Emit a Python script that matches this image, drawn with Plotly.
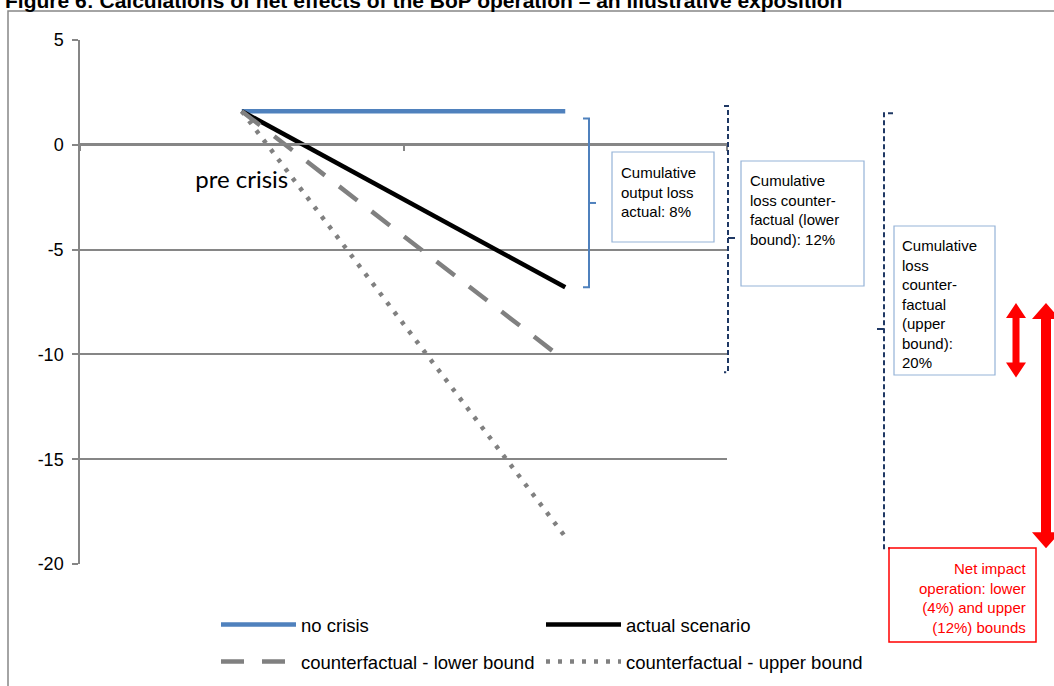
import plotly.graph_objects as go

# data
periods = ["pre crisis", "post crisis"]
no_crisis = [1.6, 1.6]
actual_scenario = [1.6, -6.8]
cf_lower = [1.6, -10.3]
cf_upper = [1.6, -18.7]

y_ticks = [5, 0, -5, -10, -15, -20]
y_tick_labels = ["5", "0", "-5", "-10", "-15", "-20"]

# bracket extents (in y units) and labels
actual_span = [1.25, -6.8]
lower_span = [1.85, -10.85]
upper_span = [1.5, -19.25]
net_lower_span = [-7.55, -11.1]
net_upper_span = [-7.55, -19.25]

box_actual = "Cumulative<br>output loss<br>actual: 8%"
box_lower = "Cumulative<br>loss counter-<br>factual (lower<br>bound): 12%"
box_upper = "Cumulative<br>loss<br>counter-<br>factual<br>(upper<br>bound):<br>20%"
box_net = "Net impact<br>operation: lower<br>(4%) and upper<br>(12%) bounds"
title = "Figure 6: Calculations of net effects of the BoP operation \u2013 an illustrative exposition"

# page geometry (pixels)
W, H = 1054, 686
L, R, T, B = 80, 727, 40, 564
GRAY = "#868686"
BLUE = "#4F81BD"
NAVY = "#1F3864"
BOXBLUE = "#95B3D7"
RED = "#FF0000"
FONT = "Liberation Sans, Arial"


def px(x):
    return (x - L) / (R - L)


def py(y):
    return (B - y) / (B - T)


def yv(v):
    # value -> pixel
    return B - (v - (-20)) / 25 * (B - T)


fig = go.Figure()
fig.add_trace(go.Scatter(x=periods, y=no_crisis, mode="lines", name="no crisis",
                         line=dict(color=BLUE, width=4.5), legend="legend"))
fig.add_trace(go.Scatter(x=periods, y=actual_scenario, mode="lines", name="actual scenario",
                         line=dict(color="black", width=4.5), legend="legend2"))
fig.add_trace(go.Scatter(x=periods, y=cf_lower, mode="lines", name="counterfactual - lower bound",
                         line=dict(color="#808080", width=4.5, dash="23px,18px"), legend="legend3"))
fig.add_trace(go.Scatter(x=periods, y=cf_upper, mode="lines", name="counterfactual - upper bound",
                         line=dict(color="#808080", width=4.5, dash="4px,8px"), legend="legend4"))

shapes = []


def line_path(pts, color, width, dash="solid"):
    d = "M" + " L".join(f"{px(x)},{py(y)}" for x, y in pts)
    shapes.append(dict(type="path", xref="paper", yref="paper", path=d,
                       line=dict(color=color, width=width, dash=dash)))


def rect(x0, y0, x1, y1, color, width):
    shapes.append(dict(type="rect", xref="paper", yref="paper",
                       x0=px(x0), x1=px(x1), y0=py(y1), y1=py(y0),
                       line=dict(color=color, width=width)))


def double_arrow(xc, v_top, v_bot, shaft, head, head_len):
    yt, yb = yv(v_top), yv(v_bot)
    pts = [(xc, yt), (xc + head, yt + head_len), (xc + shaft, yt + head_len),
           (xc + shaft, yb - head_len), (xc + head, yb - head_len), (xc, yb),
           (xc - head, yb - head_len), (xc - shaft, yb - head_len),
           (xc - shaft, yt + head_len), (xc - head, yt + head_len)]
    d = "M" + " L".join(f"{px(x)},{py(y)}" for x, y in pts) + " Z"
    shapes.append(dict(type="path", xref="paper", yref="paper", path=d,
                       fillcolor=RED, line=dict(color=RED, width=0)))


# outer frame
rect(8, 11, 1070, 700, GRAY, 1.5)

# bracket for actual loss
t, b = yv(actual_span[0]), yv(actual_span[1])
line_path([(583, t), (589, t), (589, b), (583, b)], BLUE, 2)
line_path([(589, (t + b) / 2), (596, (t + b) / 2)], BLUE, 2)

# bracket for lower bound
t, b = yv(lower_span[0]), yv(lower_span[1])
line_path([(724, t), (728, t), (728, b), (724, b)], NAVY, 2, "5px,3px")
line_path([(728, 238), (735, 238)], NAVY, 2)

# bracket for upper bound
t, b = yv(upper_span[0]), yv(upper_span[1])
line_path([(893, t), (884, t), (884, b), (890, b)], NAVY, 2, "5px,3px")
line_path([(884, 329), (877, 329)], NAVY, 2)

# text boxes
rect(612, 152, 714, 242, BOXBLUE, 1.2)
rect(741, 161, 864, 286, BOXBLUE, 1.2)
rect(894, 226, 995, 375, BOXBLUE, 1.2)
rect(889, 548, 1036, 642, RED, 1.5)

# net impact arrows
double_arrow(1016, net_lower_span[0], net_lower_span[1], 3.5, 10, 15)
double_arrow(1046, net_upper_span[0], net_upper_span[1], 5, 14, 16)

box_font = dict(family=FONT, size=15, color="black")


def note(text, x, y, xanchor="left", align="left", font=box_font, yanchor="top"):
    return dict(text=text, xref="paper", yref="paper", x=px(x), y=py(y),
                xanchor=xanchor, yanchor=yanchor, align=align, font=font,
                showarrow=False)


annotations = [
    note("<b>" + title + "</b>", 3, 1, yanchor="middle",
         font=dict(family=FONT, size=21, color="black")),
    note(box_actual, 619, 162),
    note(box_lower, 748, 170),
    note(box_upper, 900, 235),
    note(box_net, 1029, 558, xanchor="right", align="right",
         font=dict(family=FONT, size=15, color=RED)),
]


def legend_at(x, y):
    return dict(
        orientation="h",
        x=px(x - 6), y=py(y), xanchor="left", yanchor="middle",
        itemwidth=75,
        font=dict(family=FONT, size=18.5, color="black"),
        bgcolor="rgba(0,0,0,0)",
    )


fig.update_layout(
    width=W,
    height=H,
    margin=dict(l=L, r=W - R, t=T, b=H - B, autoexpand=False),
    paper_bgcolor="white",
    plot_bgcolor="white",
    font=dict(family=FONT, size=17, color="black"),
    showlegend=True,
    shapes=shapes,
    annotations=annotations,
    xaxis=dict(
        type="category",
        range=[-0.5, 1.5],
        anchor="free",
        position=py(144),
        tickson="boundaries",
        ticks="outside",
        ticklen=6,
        tickwidth=1.5,
        tickcolor=GRAY,
        showline=True,
        linecolor=GRAY,
        linewidth=1.5,
        showgrid=False,
        labelalias={"post crisis": " "},
        tickfont=dict(family="Lato", size=24, color="black"),
        ticklabelstandoff=14,
    ),
    yaxis=dict(
        range=[-20, 5],
        tickvals=y_ticks,
        ticktext=y_tick_labels,
        ticks="outside",
        ticklen=6,
        tickwidth=1.5,
        tickcolor=GRAY,
        showline=True,
        linecolor=GRAY,
        linewidth=1.5,
        showgrid=True,
        gridcolor=GRAY,
        gridwidth=1.5,
        zeroline=False,
        tickfont=dict(family=FONT, size=18, color="black"),
        ticklabelstandoff=5,
    ),
    legend=legend_at(222, 625),
    legend2=legend_at(547, 625),
    legend3=legend_at(222, 662),
    legend4=legend_at(547, 662),
)

fig.write_html("out.html", config={"displayModeBar": False},
               post_script="document.body.style.margin='0';")
